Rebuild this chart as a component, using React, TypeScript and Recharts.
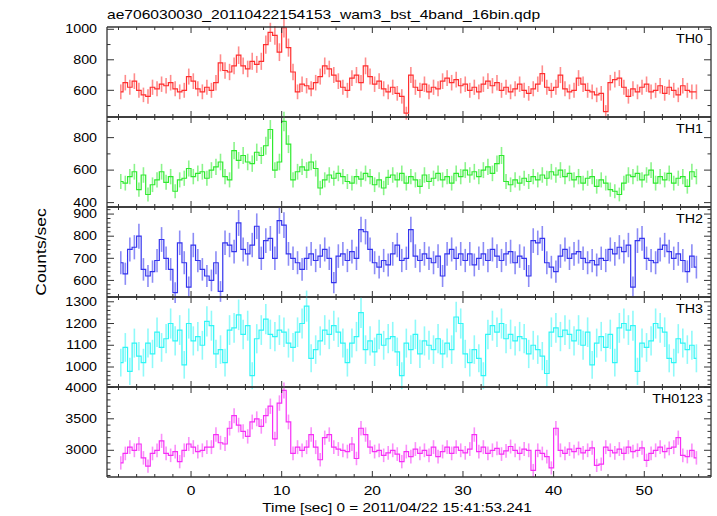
import React from 'react';
import { LineChart, Line, XAxis, YAxis, ErrorBar } from 'recharts';

// WAM light curves, count rate [counts/s], bins centred at BIN_START + i * BIN_WIDTH
const BIN_START = -7.75;
const BIN_WIDTH = 0.5;
const EXPOSURE = 0.25; // s per original bin, used for the Poisson error bars

const TH0 = [
  590, 650, 620, 660, 600, 570, 560, 620, 610, 640,
  630, 650, 610, 590, 600, 690, 660, 610, 590, 620,
  600, 650, 780, 730, 720, 760, 830, 760, 740, 790,
  770, 790, 900, 980, 960, 850, 1010, 880, 720, 590,
  640, 630, 610, 650, 690, 760, 740, 700, 660, 620,
  600, 680, 700, 650, 760, 690, 640, 660, 610, 590,
  620, 580, 560, 450, 700, 620, 600, 640, 590, 620,
  610, 660, 680, 650, 670, 630, 640, 600, 620, 590,
  640, 660, 630, 650, 600, 620, 590, 610, 640, 600,
  580, 610, 640, 710, 620, 600, 620, 700, 610, 590,
  600, 680, 640, 600, 590, 570, 580, 460, 650, 670,
  680, 620, 560, 610, 590, 620, 640, 590, 600, 630,
  580, 620, 600, 570, 630, 600, 590, 590,
];

const TH1 = [
  530, 520, 560, 590, 480, 570, 450, 510, 540, 590,
  525, 560, 470, 540, 550, 610, 560, 580, 590, 550,
  600, 620, 650, 560, 540, 720, 660, 690, 650, 640,
  710, 690, 750, 850, 600, 650, 900, 760, 540, 590,
  620, 600, 650, 610, 490, 540, 570, 550, 580, 560,
  530, 520, 560, 545, 580, 560, 510, 540, 490, 555,
  570, 540, 580, 520, 560, 540, 500, 570, 530, 550,
  580, 540, 560, 520, 580, 560, 600, 570, 590, 560,
  600, 620, 580, 640, 690, 530, 510, 540, 520, 550,
  530, 560, 540, 570, 550, 590, 570, 600, 560, 580,
  540, 560, 520, 550, 560, 500, 540, 520, 480, 470,
  450, 520, 570, 560, 580, 540, 570, 600, 520, 560,
  540, 580, 520, 550, 560, 500, 590, 560,
];

const TH2 = [
  680, 630, 740, 750, 800, 650, 620, 640, 690, 785,
  700, 650, 545, 770, 680, 570, 760, 690, 650, 620,
  600, 680, 550, 770, 760, 730, 860, 740, 720, 760,
  845, 700, 780, 790, 700, 870, 850, 720, 700, 680,
  650, 700, 720, 690, 710, 740, 700, 590, 710, 720,
  690, 730, 700, 830, 820, 740, 680, 660, 690, 670,
  720, 760, 690, 700, 830, 710, 690, 720, 700, 680,
  710, 620, 720, 740, 700, 720, 690, 720, 670, 700,
  720, 690, 740, 710, 690, 720, 730, 680, 710, 700,
  620, 780, 770, 790, 680, 660, 640, 710, 740, 700,
  720, 730, 700, 680, 690, 670, 700, 690, 740, 720,
  750, 730, 760, 570, 780, 790, 700, 690, 680, 740,
  760, 730, 700, 720, 690, 640, 710, 660,
];

const TH3 = [
  1020, 1090, 980, 1110, 1050, 1020, 1110, 1060, 1160, 1090,
  1130, 1200, 1120, 1170, 1010, 1200, 1120, 1140, 1100, 1210,
  1190, 1060, 1080, 1020, 1170, 1180, 1240, 1150, 1190, 960,
  1130, 1170, 1220, 1150, 1140, 1170, 1160, 1110, 1090, 1160,
  1200, 1280, 1040, 1080, 1120, 1170, 1150, 1190, 1160, 1110,
  1020, 1110, 1140, 1250, 1080, 1120, 1070, 1150, 1100, 1130,
  1140, 1070, 960, 1110, 1080, 1150, 1060, 1120, 1100, 1080,
  1130, 1060, 1110, 1080, 1230, 1200, 1060, 1020, 1080, 1040,
  960, 1150, 1190, 1160, 1200, 1130, 1150, 1120, 1140, 1130,
  1060, 1100, 1080, 1050, 970, 1160, 1180, 1140, 1170, 1150,
  1120, 1170, 1100, 1160, 1010, 1110, 1140, 1090, 1150, 1020,
  1180, 1200, 1170, 1190, 980, 1110, 1090, 1120, 1200, 1180,
  1160, 1040, 1020, 1130, 1110, 1080, 1100, 1040,
];

const TH0123 = [
  2800, 2950, 3050, 3000, 3100, 2880, 2750, 2950, 3000, 3150,
  2950, 2920, 2980, 2820, 3000, 3100, 3050, 2980, 3000, 3050,
  3050, 3250, 3120, 3100, 3350, 3550, 3400, 3300, 3220, 3450,
  3500, 3380, 3550, 3700, 3180, 3750, 3950, 3450, 2950, 3050,
  3000, 3050, 3250, 3050, 2850, 3200, 3250, 3050, 3020, 3000,
  2980, 3100, 2870, 3350, 3250, 3050, 2980, 3000, 2920, 2960,
  3000, 2940, 2820, 2980, 2900, 3020, 2950, 3000, 2920, 3050,
  2900, 2980, 3050, 2950, 3050, 3000, 2960, 3020, 3250, 2980,
  3050, 2950, 3000, 3030, 2940, 2990, 3060, 3000, 2950, 3020,
  3000, 2680, 3000, 2950, 2900, 2720, 3350, 3000, 2950, 3020,
  2980, 3030, 2960, 3000, 3040, 2760, 2780, 3050, 3000, 2960,
  3020, 2950, 3050, 2980, 3000, 3040, 2840, 2950, 3000, 3050,
  2980, 3030, 3050, 3200, 2920, 2900, 3000, 2880,
];

const X_DOMAIN = [-9.27, 57.36];
const X_TICKS = [-8, -6, -4, -2, 0, 2, 4, 6, 8, 10, 12, 14, 16, 18, 20, 22, 24, 26, 28, 30,
  32, 34, 36, 38, 40, 42, 44, 46, 48, 50, 52, 54, 56];
const X_LABELS = [0, 10, 20, 30, 40, 50];

const range = (a: number, b: number, step: number) => {
  const out: number[] = [];
  for (let v = a; v <= b; v += step) out.push(v);
  return out;
};

const PANELS = [
  { name: 'TH0', values: TH0, color: '#ff2e2e', err: '#ff8c8c', domain: [425, 1015], ticks: range(500, 1000, 100), labels: [600, 800, 1000] },
  { name: 'TH1', values: TH1, color: '#2eea2e', err: '#8cf48c', domain: [373, 927], ticks: range(400, 900, 100), labels: [400, 600, 800] },
  { name: 'TH2', values: TH2, color: '#3434ee', err: '#8c8cf6', domain: [525, 932], ticks: range(540, 920, 20), labels: [600, 700, 800, 900] },
  { name: 'TH3', values: TH3, color: '#2ef6f6', err: '#90fafa', domain: [908, 1322], ticks: range(920, 1320, 20), labels: [1000, 1100, 1200, 1300] },
  { name: 'TH0123', values: TH0123, color: '#f62ef6', err: '#fa90fa', domain: [2576, 4005], ticks: range(2600, 4000, 100), labels: [3000, 3500, 4000] },
];

const W = 717;
const H = 516;
const PANEL_TOP = 27;
const PANEL_H = 90;
const LEFT = 107;
const RIGHT_GAP = 6;
const FONT = "'Liberation Sans', Arial, Helvetica, sans-serif";
const FRAME = '#333';
const AXIS_LINE = { stroke: FRAME, strokeWidth: 1.3 };

function Txt({ x, y, size, anchor = 'start', stretch = 1.2, rotate = 0, children }: any) {
  return (
    <g transform={`translate(${x},${y}) rotate(${rotate}) scale(${stretch},1)`}>
      <text x={0} y={0} fontSize={size} fontFamily={FONT} textAnchor={anchor} fill="#000">
        {children}
      </text>
    </g>
  );
}

// tick marks point into the panel; major ones are longer
const xTick = (side: 'top' | 'bottom', withLabels: boolean) => (props: any) => {
  const x = Number(props.x);
  const y = Number(props.y);
  const value = props.payload.value;
  const major = value % 10 === 0;
  const len = major ? 6 : 3;
  const dir = side === 'top' ? 1 : -1;
  return (
    <g>
      <path d={`M${x},${y}V${y + dir * len}`} stroke={FRAME} strokeWidth={1} fill="none" />
      {withLabels && X_LABELS.includes(value) && (
        <Txt x={x} y={y + 17.5} size={13} anchor="middle">{value}</Txt>
      )}
    </g>
  );
};

const yTick = (side: 'left' | 'right', labels: number[]) => (props: any) => {
  const x = Number(props.x);
  const y = Number(props.y);
  const value = props.payload.value;
  const major = labels.includes(value);
  const len = major ? 7 : 3.5;
  const dir = side === 'left' ? 1 : -1;
  return (
    <g>
      <path d={`M${x},${y}H${x + dir * len}`} stroke={FRAME} strokeWidth={1} fill="none" />
      {side === 'left' && major && (
        <Txt x={x - 10} y={y + 4.2} size={12} anchor="end" stretch={1.19}>{value}</Txt>
      )}
    </g>
  );
};

function Panel({ p, index, last }: any) {
  const rows = p.values.map((v: number, i: number) => ({
    t: BIN_START + i * BIN_WIDTH,
    v,
    err: Math.sqrt(v * EXPOSURE) / EXPOSURE,
  }));
  const extra = last ? 40 : 0;
  // the horizontal axes are 1px tall, so the chart starts 1px above the panel frame
  return (
    <div style={{ position: 'absolute', left: 0, top: PANEL_TOP + index * PANEL_H - 1 }}>
      <LineChart
        width={W}
        height={PANEL_H + 2 + extra}
        data={rows}
        margin={{ top: 0, right: RIGHT_GAP - 1, bottom: extra, left: 0 }}
      >
        <XAxis xAxisId="b" type="number" dataKey="t" domain={X_DOMAIN} allowDataOverflow ticks={X_TICKS}
          interval={0} orientation="bottom" height={1} tickSize={0} tickMargin={0} tickLine={false}
          axisLine={AXIS_LINE} tick={xTick('bottom', last)} />
        <XAxis xAxisId="t" type="number" dataKey="t" domain={X_DOMAIN} allowDataOverflow ticks={X_TICKS}
          interval={0} orientation="top" height={1} tickSize={0} tickMargin={0} tickLine={false}
          axisLine={AXIS_LINE} tick={xTick('top', false)} />
        <YAxis yAxisId="l" type="number" domain={p.domain} allowDataOverflow ticks={p.ticks} interval={0}
          orientation="left" width={LEFT} tickSize={0} tickMargin={0} tickLine={false}
          axisLine={AXIS_LINE} tick={yTick('left', p.labels)} />
        <YAxis yAxisId="r" type="number" domain={p.domain} allowDataOverflow ticks={p.ticks} interval={0}
          orientation="right" width={1} tickSize={0} tickMargin={0} tickLine={false}
          axisLine={AXIS_LINE} tick={yTick('right', p.labels)} />
        <Line xAxisId="b" yAxisId="l" dataKey="v" stroke="none" dot={false} activeDot={false}
          isAnimationActive={false}>
          <ErrorBar dataKey="err" width={0} stroke={p.err} strokeWidth={1.6} direction="y"
            isAnimationActive={false} />
        </Line>
        <Line xAxisId="b" yAxisId="l" dataKey="v" type="step" stroke={p.color} strokeWidth={1.2}
          dot={false} activeDot={false} isAnimationActive={false} />
      </LineChart>
    </div>
  );
}

export default function App() {
  const plotMid = PANEL_TOP + (PANELS.length * PANEL_H) / 2;
  return (
    <div style={{ position: 'absolute', left: 0, top: 0, width: W, height: H, background: '#fff' }}>
      <style>{'.recharts-surface{overflow:visible}'}</style>
      {PANELS.map((p, i) => (
        <Panel key={p.name} p={p} index={i} last={i === PANELS.length - 1} />
      ))}
      <svg width={W} height={H} style={{ position: 'absolute', left: 0, top: 0, pointerEvents: 'none' }}>
        <Txt x={107} y={18.5} size={12} stretch={1.3}>ae706030030_20110422154153_wam3_bst_4band_16bin.qdp</Txt>
        <Txt x={397} y={511.5} size={13} anchor="middle" stretch={1.18}>Time [sec] 0 = 2011/04/22 15:41:53.241</Txt>
        <Txt x={46} y={plotMid} size={14} anchor="middle" stretch={1.25} rotate={-90}>Counts/sec</Txt>
        {PANELS.map((p, i) => (
          <Txt key={p.name} x={703} y={PANEL_TOP + i * PANEL_H + 15.5} size={13} anchor="end" stretch={1.1}>
            {p.name}
          </Txt>
        ))}
      </svg>
    </div>
  );
}
